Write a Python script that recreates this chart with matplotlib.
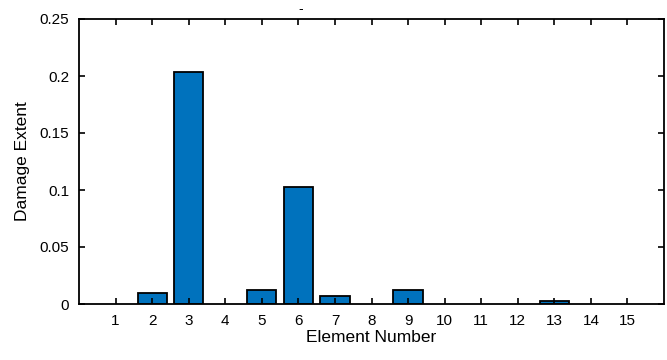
import matplotlib
matplotlib.use('Agg')
import matplotlib.pyplot as plt

plt.rcParams['font.family'] = ['Liberation Sans', 'DejaVu Sans']

elements = list(range(1, 16))
damage = [0, 0.0095, 0.2035, 0, 0.0123, 0.1025, 0.0073, 0, 0.0123,
          0, 0, 0, 0.003, 0, 0]
yticks = [0, 0.05, 0.1, 0.15, 0.2, 0.25]
ytick_labels = ['0', '0.05', '0.1', '0.15', '0.2', '0.25']

fig = plt.figure(figsize=(6.67, 3.6), dpi=100)
ax = fig.add_axes([79 / 667, 1 - 304 / 360, (664 - 79) / 667, (304 - 19) / 360])

# only non-zero bars get drawn, zero ones vanish under the axis line
nz = [(e, d) for e, d in zip(elements, damage) if d > 0]
ax.bar([e for e, d in nz], [d for e, d in nz], width=0.8,
       color='#0072BD', edgecolor='black', linewidth=1.3)

ax.set_xlim(0, 16)
ax.set_ylim(0, 0.25)
ax.set_xticks(elements)
ax.set_yticks(yticks)
ax.set_yticklabels(ytick_labels)
ax.tick_params(direction='in', top=True, right=True, labelsize=11, length=4, width=1.2, pad=7)
for s in ax.spines.values():
    s.set_linewidth(1.3)

ax.set_xlabel('Element Number', fontsize=12.5, labelpad=2)
ax.set_ylabel('Damage Extent', fontsize=12.5, labelpad=7)
# small stray mark above the plot in the reference
fig.text(301 / 667, 1 - 9 / 360, '-', fontsize=10, ha='center', va='center')

fig.savefig('out.png', dpi=100)
